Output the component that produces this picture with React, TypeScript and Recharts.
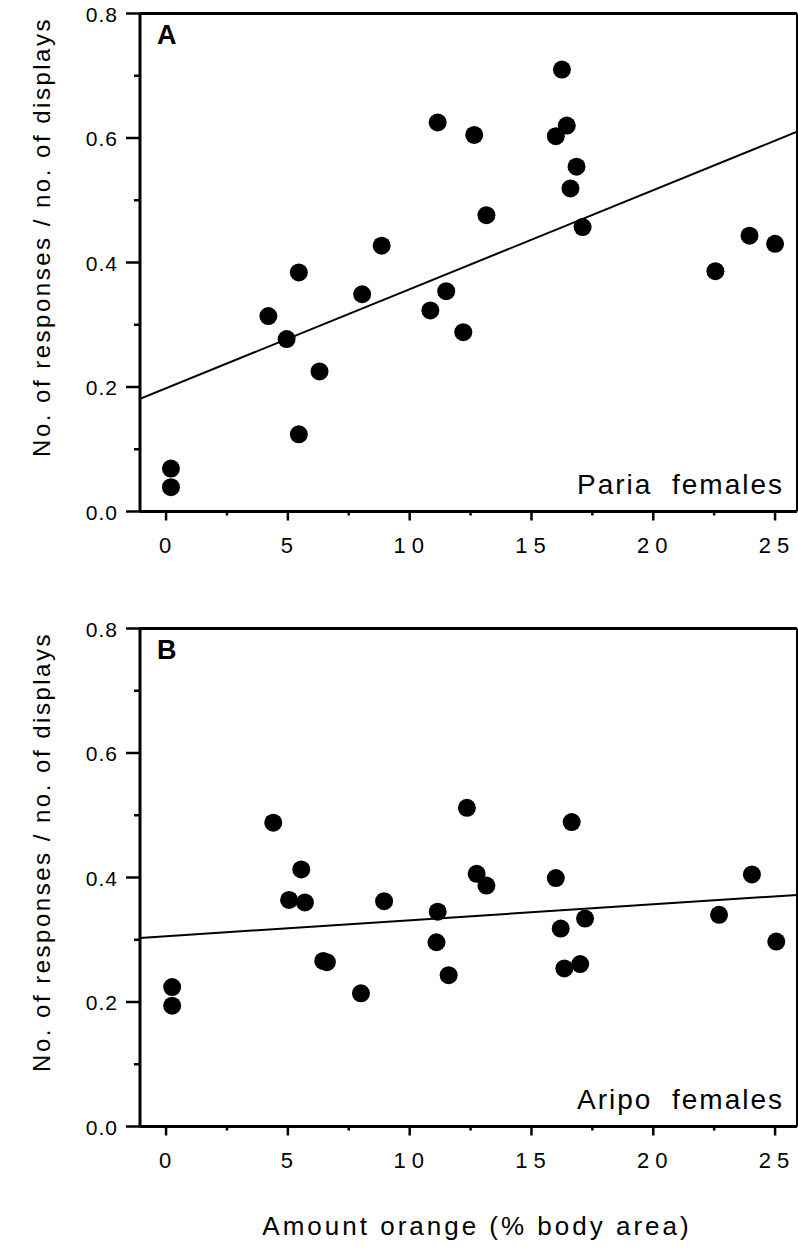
import React from 'react';
import { ComposedChart, Scatter, Line, XAxis, YAxis, ReferenceLine } from 'recharts';

// Paria females (panel A)
const pariaX = [0.2, 0.2, 4.2, 4.95, 5.45, 5.45, 6.3, 8.05, 8.85, 10.85, 11.15, 11.5, 12.2, 12.65, 13.15, 16.0, 16.25, 16.45, 16.6, 16.85, 17.1, 22.55, 23.95, 25.0];
const pariaY = [0.069, 0.039, 0.314, 0.277, 0.384, 0.124, 0.225, 0.349, 0.427, 0.323, 0.625, 0.354, 0.288, 0.605, 0.476, 0.603, 0.71, 0.62, 0.519, 0.554, 0.457, 0.386, 0.443, 0.43];
const pariaFitX = [-1.07, 25.9];
const pariaFitY = [0.181, 0.61];

// Aripo females (panel B)
const aripoX = [0.25, 0.25, 4.4, 5.05, 5.55, 5.7, 6.45, 6.6, 8.0, 8.95, 11.1, 11.15, 11.6, 12.35, 12.75, 13.15, 16.0, 16.2, 16.35, 16.65, 17.0, 17.2, 22.7, 24.05, 25.05];
const aripoY = [0.224, 0.194, 0.488, 0.364, 0.413, 0.36, 0.266, 0.264, 0.214, 0.362, 0.296, 0.345, 0.243, 0.512, 0.406, 0.387, 0.399, 0.318, 0.254, 0.489, 0.261, 0.334, 0.34, 0.405, 0.297];
const aripoFitX = [-1.07, 25.9];
const aripoFitY = [0.303, 0.372];

// axes
const xDomain = [-1.07, 25.9];
const yDomain = [0, 0.8];
const xMajorTicks = [0, 5, 10, 15, 20, 25];
const xMinorTicks = [2.5, 7.5, 12.5, 17.5, 22.5];
const yMajorTicks = [0, 0.2, 0.4, 0.6, 0.8];
const yMinorTicks = [0.1, 0.3, 0.5, 0.7];

const FONT = '"Liberation Sans", Arial, Helvetica, sans-serif';
const PLOT_BOTTOM = 511.5;

const toPoints = (xs: number[], ys: number[]) => xs.map((x, i) => ({ x, y: ys[i] }));

const xTicks = [...xMajorTicks, ...xMinorTicks].sort((a, b) => a - b);
const yTicks = [...yMajorTicks, ...yMinorTicks].sort((a, b) => a - b);

const XTick = ({ x, y, payload }: any) => {
  const major = xMajorTicks.includes(payload.value);
  return (
    <g>
      <line x1={x} y1={y} x2={x} y2={y + (major ? 9 : 4)} stroke="#000" strokeWidth={2.5} />
      {major && (
        <text x={x} y={y + 41} dx={2} textAnchor="middle" fontSize={22} fontFamily={FONT} letterSpacing={6} fill="#000">
          {payload.value}
        </text>
      )}
    </g>
  );
};

const YTick = ({ x, y, payload }: any) => {
  const major = yMajorTicks.includes(payload.value);
  return (
    <g>
      <line x1={x} y1={y} x2={x - (major ? 14 : 6)} y2={y} stroke="#000" strokeWidth={2.5} />
      {major && (
        <text x={x - 22} y={y + 8} textAnchor="end" fontSize={21} fontFamily={FONT} letterSpacing={1} fill="#000">
          {payload.value.toFixed(1)}
        </text>
      )}
    </g>
  );
};

const Dot = (props: any) => <circle cx={props.cx} cy={props.cy} r={9} fill="#000" />;

interface PanelProps {
  letter: string;
  caption: string;
  points: { x: number; y: number }[];
  fit: { x: number; y: number }[];
  top: number;
  height: number;
  showXTitle?: boolean;
}

function Panel({ letter, caption, points, fit, top, height, showXTitle }: PanelProps) {
  return (
    <div style={{ position: 'absolute', left: 0, top }}>
      <ComposedChart width={798} height={height} margin={{ top: 13.5, right: 1, bottom: 0, left: 0 }}>
        <XAxis
          type="number"
          dataKey="x"
          domain={xDomain}
          allowDataOverflow
          ticks={xTicks}
          interval={0}
          tickLine={false}
          tickSize={0}
          tickMargin={0}
          height={height - PLOT_BOTTOM}
          axisLine={{ stroke: '#000', strokeWidth: 3 }}
          tick={<XTick />}
        />
        <YAxis
          type="number"
          dataKey="y"
          domain={yDomain}
          allowDataOverflow
          ticks={yTicks}
          interval={0}
          tickLine={false}
          tickSize={0}
          tickMargin={0}
          width={140}
          axisLine={{ stroke: '#000', strokeWidth: 3 }}
          tick={<YTick />}
        />
        <ReferenceLine y={yDomain[1]} stroke="#000" strokeWidth={3} />
        <ReferenceLine x={xDomain[1]} stroke="#000" strokeWidth={2} />
        <Line data={fit} dataKey="y" type="linear" stroke="#000" strokeWidth={2} dot={false} isAnimationActive={false} />
        <Scatter data={points} dataKey="y" fill="#000" shape={Dot} isAnimationActive={false} />
        <text x={157} y={44} fontSize={27} fontWeight="bold" fontFamily={FONT} fill="#000">
          {letter}
        </text>
        <text x={784} y={493.5} textAnchor="end" fontSize={28} fontFamily={FONT} letterSpacing={2} fill="#000">
          {caption}
        </text>
        <text
          transform="translate(50, 237) rotate(-90)"
          textAnchor="middle"
          fontSize={24}
          fontFamily={FONT}
          letterSpacing={2.5}
          fill="#000"
        >
          No. of responses / no. of displays
        </text>
        {showXTitle && (
          <text x={477} y={620} textAnchor="middle" fontSize={26} fontFamily={FONT} letterSpacing={3} fill="#000">
            Amount orange (% body area)
          </text>
        )}
      </ComposedChart>
    </div>
  );
}

export default function App() {
  return (
    <div style={{ position: 'absolute', left: 0, top: 0, width: 798, height: 1253, background: '#fff' }}>
      <Panel
        letter="A"
        caption={'Paria\u00a0 females'}
        points={toPoints(pariaX, pariaY)}
        fit={toPoints(pariaFitX, pariaFitY)}
        top={0}
        height={560}
      />
      <Panel
        letter="B"
        caption={'Aripo\u00a0 females'}
        points={toPoints(aripoX, aripoY)}
        fit={toPoints(aripoFitX, aripoFitY)}
        top={614.7}
        height={636}
        showXTitle
      />
    </div>
  );
}
